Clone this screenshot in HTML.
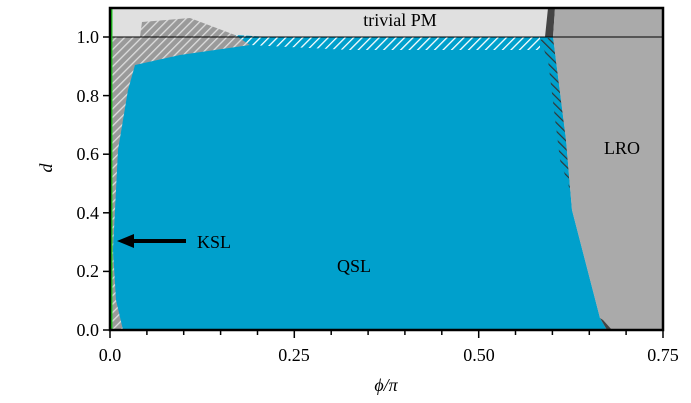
<!DOCTYPE html>
<html><head><meta charset="utf-8"><style>body{margin:0;background:#fff}svg{display:block}text{font-family:"Liberation Serif",serif;font-size:18px;fill:#000}</style></head><body>
<svg width="691" height="403" viewBox="0 0 691 403" xmlns="http://www.w3.org/2000/svg">
<defs>
<pattern id="hb" width="6" height="6" patternUnits="userSpaceOnUse" patternTransform="rotate(45)"><rect width="6" height="6" fill="#00a0cc"/><rect width="1.3" height="6" fill="#fff"/></pattern>
<pattern id="hg" width="6" height="6" patternUnits="userSpaceOnUse" patternTransform="rotate(45)"><rect width="6" height="6" fill="#9a9a9a"/><rect width="1.3" height="6" fill="#ddd"/></pattern>
<pattern id="hd" width="6" height="6" patternUnits="userSpaceOnUse" patternTransform="rotate(-45)"><rect width="6" height="6" fill="#00a0cc"/><rect width="1.2" height="6" fill="#333"/></pattern>
</defs>
<rect x="110" y="8" width="553" height="322" fill="#e0e0e0"/>
<polygon points="110,37 553,37 566,140 572,210 600,318 607,330 110,330" fill="#00a0cc"/>
<polygon points="110,330 110,37 140,37 142,22 190,18 235,35 250,45 180,55 135,65 128,90 118,150 113,250 116,300 123,330" fill="url(#hg)"/>
<polygon points="235,35 250,45 350,50 540,50 540,37 270,37" fill="url(#hb)"/>
<polygon points="540,40 553,37 566,140 570,190 560,160 548,60" fill="url(#hd)"/>
<polygon points="548,8 555,8 553,37 545,37" fill="#444"/>
<polygon points="555,8 663,8 663,330 607,330 600,318 572,210 566,140 553,37" fill="#aaaaaa"/>
<polygon points="600,318 607,330 612,330 603,320" fill="#444"/>
<line x1="110" y1="37" x2="663" y2="37" stroke="#000" stroke-width="1"/>
<line x1="111.5" y1="8" x2="111.5" y2="330" stroke="#2c2" stroke-width="2"/>
<line x1="186" y1="241" x2="128" y2="241" stroke="#000" stroke-width="4"/>
<polygon points="117,241 134,234 134,248" fill="#000"/>
<rect x="110" y="8" width="553" height="322" fill="none" stroke="#000" stroke-width="2.5"/>
<g stroke="#000" stroke-width="1.5">
<line x1="103" y1="330" x2="110" y2="330"/><line x1="103" y1="271.4" x2="110" y2="271.4"/><line x1="103" y1="212.8" x2="110" y2="212.8"/><line x1="103" y1="154.2" x2="110" y2="154.2"/><line x1="103" y1="95.6" x2="110" y2="95.6"/><line x1="103" y1="37" x2="110" y2="37"/>
<line x1="110" y1="330" x2="110" y2="338"/><line x1="294.3" y1="330" x2="294.3" y2="338"/><line x1="478.7" y1="330" x2="478.7" y2="338"/><line x1="663" y1="330" x2="663" y2="338"/>
<line x1="146.9" y1="330" x2="146.9" y2="335"/><line x1="183.7" y1="330" x2="183.7" y2="335"/><line x1="220.6" y1="330" x2="220.6" y2="335"/><line x1="257.5" y1="330" x2="257.5" y2="335"/><line x1="331.2" y1="330" x2="331.2" y2="335"/><line x1="368.1" y1="330" x2="368.1" y2="335"/><line x1="404.9" y1="330" x2="404.9" y2="335"/><line x1="441.8" y1="330" x2="441.8" y2="335"/><line x1="515.5" y1="330" x2="515.5" y2="335"/><line x1="552.4" y1="330" x2="552.4" y2="335"/><line x1="589.3" y1="330" x2="589.3" y2="335"/><line x1="626.1" y1="330" x2="626.1" y2="335"/>
</g>
<g text-anchor="end"><text x="99" y="336">0.0</text><text x="99" y="277">0.2</text><text x="99" y="219">0.4</text><text x="99" y="160">0.6</text><text x="99" y="102">0.8</text><text x="99" y="43">1.0</text></g>
<g text-anchor="middle"><text x="110" y="361">0.0</text><text x="294" y="361">0.25</text><text x="479" y="361">0.50</text><text x="663" y="361">0.75</text>
<text x="386" y="391" font-style="italic">ϕ/π</text>
<text x="400" y="26">trivial PM</text><text x="622" y="154">LRO</text><text x="354" y="272">QSL</text></g>
<text x="197" y="248">KSL</text>
<text x="48" y="172" font-style="italic" transform="rotate(-90 48 168)" text-anchor="middle">d</text>
</svg>
</body></html>
